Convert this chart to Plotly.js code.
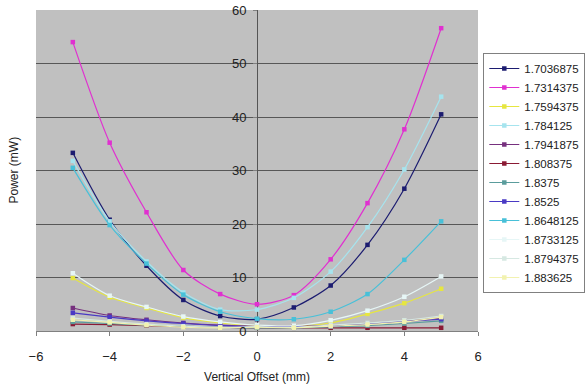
<!DOCTYPE html>
<html>
<head>
<meta charset="utf-8">
<script src="https://cdn.plot.ly/plotly-3.0.1.min.js"></script>
<style>
  html, body { margin: 0; padding: 0; background: #ffffff; }
  #chart { width: 588px; height: 389px; }
</style>
</head>
<body>
<div id="chart"></div>
<script>
// Vertical offset positions (mm)
const offsets = [-5, -4, -3, -2, -1, 0, 1, 2, 3, 4, 5];

// Wavelength labels for each scan
const wavelengths = ["1.7036875", "1.7314375", "1.7594375", "1.784125", "1.7941875", "1.808375",
                     "1.8375", "1.8525", "1.8648125", "1.8733125", "1.8794375", "1.883625"];

// Measured power (mW) per wavelength
const p17036875 = [33.3, 20.8, 12.2, 5.8, 2.8, 2.2, 4.4, 8.5, 16.1, 26.6, 40.5];
const p17314375 = [54.0, 35.2, 22.2, 11.4, 6.9, 5.0, 6.7, 13.4, 23.9, 37.7, 56.6];
const p17594375 = [9.9, 6.3, 4.3, 2.5, 1.5, 1.0, 0.9, 1.5, 3.2, 5.2, 7.9];
const p1784125  = [31.8, 20.5, 13.0, 7.2, 4.0, 4.0, 6.2, 11.1, 19.4, 30.2, 43.8];
const p17941875 = [4.3, 2.9, 2.1, 1.5, 1.1, 0.9, 0.9, 1.0, 1.3, 1.8, 2.4];
const p1808375  = [1.3, 1.2, 1.0, 0.8, 0.7, 0.6, 0.6, 0.6, 0.6, 0.6, 0.6];
const p18375    = [1.7, 1.4, 1.1, 0.9, 0.7, 0.6, 0.6, 0.8, 1.0, 1.4, 1.9];
const p18525    = [3.4, 2.6, 1.9, 1.4, 1.0, 0.8, 0.8, 0.9, 1.3, 1.8, 2.2];
const p18648125 = [30.5, 19.8, 12.6, 6.8, 3.6, 2.3, 2.2, 3.6, 6.9, 13.3, 20.5];
const p18733125 = [10.8, 6.6, 4.5, 2.7, 1.7, 1.1, 1.0, 2.0, 3.8, 6.4, 10.2];
const p18794375 = [2.4, 1.8, 1.3, 0.9, 0.7, 0.8, 0.7, 1.1, 1.5, 2.0, 2.8];
const p1883625  = [2.1, 1.6, 1.1, 0.7, 0.6, 0.7, 0.6, 0.9, 1.2, 1.7, 2.6];

const powers = [p17036875, p17314375, p17594375, p1784125, p17941875, p1808375,
                p18375, p18525, p18648125, p18733125, p18794375, p1883625];

const colors = ["#1c1c70", "#e030d0", "#e6e640", "#a6e4ee", "#76307e", "#8a1a34",
                "#5a9c9c", "#4a3ac4", "#48c0d8", "#e6f6f6", "#d6e8e2", "#f2f2b0"];

const traces = wavelengths.map((w, i) => ({
  type: "scatter",
  mode: "lines+markers",
  name: w,
  x: offsets,
  y: powers[i],
  line: { color: colors[i], width: 1.2, shape: "spline", smoothing: 0.8 },
  marker: { color: colors[i], size: 4.5, symbol: "square" }
}));

const font = { family: "Liberation Sans, Arial, sans-serif", color: "#222222" };

const layout = {
  width: 588,
  height: 389,
  margin: { l: 36, r: 110, t: 10, b: 58, autoexpand: false },
  paper_bgcolor: "#ffffff",
  plot_bgcolor: "#c0c0c0",
  showlegend: true,
  font: Object.assign({ size: 12 }, font),
  xaxis: {
    range: [-6, 6],
    tickmode: "array",
    tickvals: [-6, -4, -2, 0, 2, 4, 6],
    ticks: "outside",
    ticklen: 4,
    tickcolor: "#808080",
    showgrid: false,
    zeroline: true,
    zerolinecolor: "#555555",
    zerolinewidth: 1,
    showline: true,
    linecolor: "#808080",
    linewidth: 1,
    ticklabelstandoff: 9,
    tickfont: Object.assign({ size: 13 }, font),
    title: { text: "Vertical Offset (mm)", font: Object.assign({ size: 12 }, font), standoff: 10 }
  },
  yaxis: {
    range: [0, 60],
    dtick: 10,
    anchor: "free",
    position: 0.5,
    ticks: "outside",
    ticklen: 4,
    tickcolor: "#808080",
    showgrid: true,
    gridcolor: "#575757",
    gridwidth: 1,
    zeroline: false,
    showline: false,
    ticklabelstandoff: 4,
    tickfont: Object.assign({ size: 13 }, font)
  },
  legend: {
    x: 1.012,
    xanchor: "left",
    y: 0.866,
    yanchor: "top",
    bgcolor: "#ffffff",
    bordercolor: "#808080",
    borderwidth: 1,
    itemwidth: 30,
    font: Object.assign({ size: 11.5 }, font),
    tracegroupgap: 0
  },
  annotations: [{
    text: "Power (mW)",
    xref: "paper",
    yref: "paper",
    x: -0.052,
    y: 0.5,
    xanchor: "center",
    yanchor: "middle",
    textangle: -90,
    showarrow: false,
    font: Object.assign({ size: 12 }, font)
  }]
};

Plotly.newPlot("chart", traces, layout, { displayModeBar: false, staticPlot: true });
</script>
</body>
</html>
